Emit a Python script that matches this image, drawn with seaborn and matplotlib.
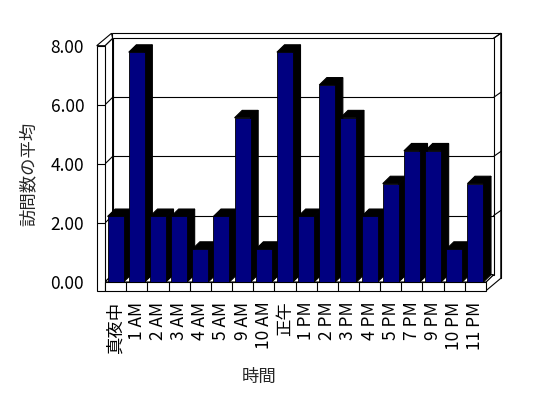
import matplotlib
matplotlib.use('Agg')
import matplotlib.pyplot as plt
import seaborn as sns
import pandas as pd
from matplotlib.patches import Polygon
from matplotlib.lines import Line2D
from matplotlib.transforms import IdentityTransform

# ---- data ----
hours = ['真夜中', '1 AM', '2 AM', '3 AM', '4 AM', '5 AM', '9 AM', '10 AM', '正午',
         '1 PM', '2 PM', '3 PM', '4 PM', '5 PM', '7 PM', '9 PM', '10 PM', '11 PM']
avg_visits = [2.22, 7.78, 2.22, 2.22, 1.11, 2.22, 5.56, 1.11, 7.78,
              2.22, 6.67, 5.56, 2.22, 3.33, 4.44, 4.44, 1.11, 3.33]
y_ticks = [0, 2, 4, 6, 8]
y_tick_labels = ['0.00', '2.00', '4.00', '6.00', '8.00']
x_title = '時間'
y_title = '訪問数の平均'

sns.set_style('white')
plt.rcParams['font.family'] = ['Noto Sans CJK JP', 'DejaVu Sans']

W, H = 548, 398
fig = plt.figure(figsize=(W / 100, H / 100), dpi=100)
ax = fig.add_axes([105 / W, 1 - 282 / H, 381 / W, (282 - 45.7) / H])

df = pd.DataFrame({'hour': hours, 'avg': avg_visits})
sns.barplot(data=df, x='hour', y='avg', order=hours, color='#000080', saturation=1,
            width=0.755, edgecolor='black', linewidth=0.6, errorbar=None, ax=ax)
ax.set_xlim(-0.5, len(hours) - 0.5)
ax.set_ylim(y_ticks[0], y_ticks[-1])
ax.set_yticks(y_ticks, y_tick_labels)
ax.tick_params(axis='y', length=0, pad=15, labelsize=12.5, colors='black')
ax.tick_params(axis='x', length=0, pad=14, labelsize=12.5, rotation=90, colors='black')
ax.set_xlabel('')
ax.set_ylabel('')
for s in ax.spines.values():
    s.set_visible(False)
ax.patch.set_visible(False)

# ---- 3D styling (pixel offsets) ----
ID = IdentityTransform()
d1 = (7.6, 7.4)     # depth of plot box
d2 = (14.8, 12.4)   # outer depth incl. wall thickness
tw = 8.3            # left wall thickness
th = 8.7            # floor thickness
LW = 0.8


def D(x, y):
    return ax.transData.transform((x, y))


def poly(pts, fc, z, ec='black'):
    ax.add_patch(Polygon(pts, closed=True, facecolor=fc, edgecolor=ec, linewidth=LW,
                         transform=ID, clip_on=False, zorder=z))


def seg(p, q, z):
    ax.add_line(Line2D([p[0], q[0]], [p[1], q[1]], color='black', linewidth=LW,
                       transform=ID, clip_on=False, zorder=z))


bars = list(ax.patches)

L, y0 = D(-0.5, y_ticks[0])
R, y8 = D(len(hours) - 0.5, y_ticks[-1])

# outer back face
poly([(L - tw + d2[0], y0 - th + d2[1]), (R + d2[0], y0 - th + d2[1]),
      (R + d2[0], y8 + d2[1]), (L - tw + d2[0], y8 + d2[1])], 'white', 0.3)
# right wall strip
poly([(R, y0 - th), (R + d2[0], y0 - th + d2[1]), (R + d2[0], y8 + d2[1]),
      (R + d1[0], y8 + d1[1]), (R + d1[0], y0 + d1[1]), (R, y0)], 'white', 0.4)
# inner back wall
poly([(L + d1[0], y0 + d1[1]), (R + d1[0], y0 + d1[1]),
      (R + d1[0], y8 + d1[1]), (L + d1[0], y8 + d1[1])], 'white', 0.5)
for v in y_ticks[1:-1]:
    _, yv = D(0, v)
    seg((L + d1[0], yv + d1[1]), (R + d1[0], yv + d1[1]), 0.6)
    seg((R + d1[0], yv + d1[1]), (R + d2[0], yv + d2[1]), 0.6)
seg((R + d1[0], y8 + d1[1]), (R + d2[0], y8 + d2[1]), 0.6)
# left wall inner face
poly([(L, y0), (L, y8), (L + d1[0], y8 + d1[1]), (L + d1[0], y0 + d1[1])], 'white', 0.7)
for v in y_ticks[1:-1]:
    _, yv = D(0, v)
    seg((L, yv), (L + d1[0], yv + d1[1]), 0.75)
# floor top
poly([(L, y0), (R, y0), (R + d1[0], y0 + d1[1]), (L + d1[0], y0 + d1[1])], 'white', 0.8)
# left slab top
poly([(L - tw, y8), (L, y8), (L + d1[0], y8 + d1[1]), (L - tw + d2[0], y8 + d2[1])], 'white', 0.85)
# left slab front
poly([(L - tw, y0 - th), (L, y0 - th), (L, y8), (L - tw, y8)], 'white', 0.9)
for v in y_ticks[1:-1]:
    _, yv = D(0, v)
    seg((L - tw, yv), (L, yv), 0.95)
# floor front with category cells
poly([(L, y0 - th), (R, y0 - th), (R, y0), (L, y0)], 'white', 0.9)
for k in range(len(hours) - 1):
    xk, _ = D(k + 0.5, 0)
    seg((xk, y0 - th), (xk, y0), 0.95)

# bars: black side and top faces behind each navy front
for i, p in enumerate(bars):
    x0 = p.get_x()
    w = p.get_width()
    h = p.get_height()
    X0, Y0 = D(x0, 0)
    X1, Yt = D(x0 + w, h)
    poly([(X1, Y0), (X1, Yt), (X1 + d1[0], Yt + d1[1]), (X1 + d1[0], Y0 + d1[1])],
         'black', 2 + 2 * i)
    poly([(X0, Yt), (X1, Yt), (X1 + d1[0], Yt + d1[1]), (X0 + d1[0], Yt + d1[1])],
         'black', 2 + 2 * i)
    p.set_zorder(3 + 2 * i)

fig.text(29 / W, 1 - 174 / H, y_title, rotation=90, ha='center', va='center', fontsize=12.5)
fig.text(259 / W, 1 - 376.7 / H, x_title, ha='center', va='center', fontsize=12.5)

fig.savefig('out.png', dpi=100, facecolor='white')
